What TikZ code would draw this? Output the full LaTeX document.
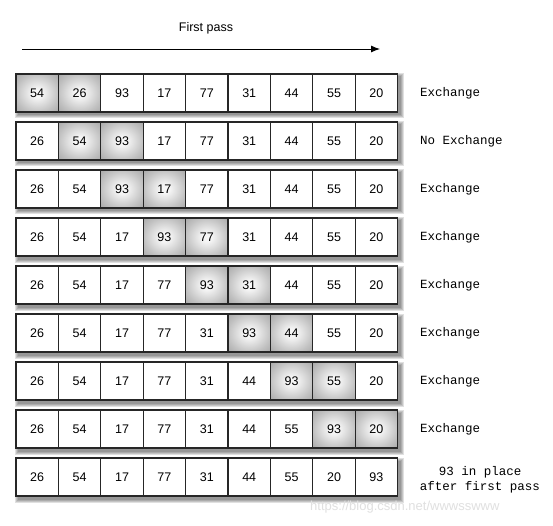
\documentclass[tikz,border=0pt]{standalone}
\usepackage{fontspec}
\setmainfont{Liberation Sans}
\newfontfamily\monofnt{Liberation Mono}
\usetikzlibrary{arrows.meta}
\pgfdeclareradialshading{softglow}{\pgfpoint{0bp}{0bp}}{color(0bp)=(black!3); color(6bp)=(black!4); color(25bp)=(black!24); color(36bp)=(black!34); color(50bp)=(black!34)}
\begin{document}
\begin{tikzpicture}[x=1pt,y=-1pt,
  cell/.style={draw=black!85,line width=1.1pt,minimum width=42.4pt,minimum height=38pt,inner sep=0pt,font=\fontsize{12.5}{14}\selectfont,fill=white},
  hot/.style={shading=softglow},
  lab/.style={anchor=west,font=\monofnt\fontsize{12.5}{15}\selectfont,inner sep=0pt},
  shadowbox/.style={fill=black,opacity=0.12}]
\useasboundingbox (0,0) rectangle (553,526);
\fill[white] (0,0) rectangle (553,526);
\node[font=\fontsize{12.5}{14}\selectfont] (title) at (206,28) {First pass};
\coordinate (arrS) at (22,49);
\coordinate (arrE) at (380,49);
\draw[line width=0.9pt,-{Latex[length=9pt,width=7pt]}] (arrS) -- (arrE);
\def\rows{{{54,26,93,17,77,31,44,55,20},{26,54,93,17,77,31,44,55,20},{26,54,93,17,77,31,44,55,20},{26,54,17,93,77,31,44,55,20},{26,54,17,77,93,31,44,55,20},{26,54,17,77,31,93,44,55,20},{26,54,17,77,31,44,93,55,20},{26,54,17,77,31,44,55,93,20},{26,54,17,77,31,44,55,20,93}}}
\foreach \r in {0,...,8}{
  \pgfmathsetmacro{\yc}{93+48*\r}
  \foreach \k in {0.5,1.5,2.5,3.5}{
    \fill[shadowbox] (16-\k+2.5,\yc-19-\k+3) rectangle (398+\k+2.5,\yc+19+\k+3);
  }
  \foreach \i in {0,...,8}{
    \pgfmathsetmacro{\xc}{16+42.4*(\i+0.5)}
    \pgfmathtruncatemacro{\v}{\rows[\r][\i]}
    \pgfmathtruncatemacro{\ishot}{(\r<8) && (\i==\r || \i==\r+1) ? 1 : 0}
    \ifnum\ishot=1
      \node[cell,hot] (c-\r-\i) at (\xc,\yc) {\v};
    \else
      \node[cell] (c-\r-\i) at (\xc,\yc) {\v};
    \fi
  }
}
\node[lab] (l0) at (420,93) {Exchange};
\node[lab] (l1) at (420,141) {No Exchange};
\node[lab] (l2) at (420,189) {Exchange};
\node[lab] (l3) at (420,237) {Exchange};
\node[lab] (l4) at (420,285) {Exchange};
\node[lab] (l5) at (420,333) {Exchange};
\node[lab] (l6) at (420,381) {Exchange};
\node[lab] (l7) at (420,429) {Exchange};
\node[font=\monofnt\fontsize{12.5}{15}\selectfont,align=center,inner sep=0pt] (l8) at (480,480) {93 in place\\after first pass};
\node[font=\fontsize{13}{15}\selectfont,text=black!12,anchor=west,inner sep=0pt] (wm) at (310,507) {https://blog.csdn.net/wwwsswww};
\end{tikzpicture}
\end{document}
